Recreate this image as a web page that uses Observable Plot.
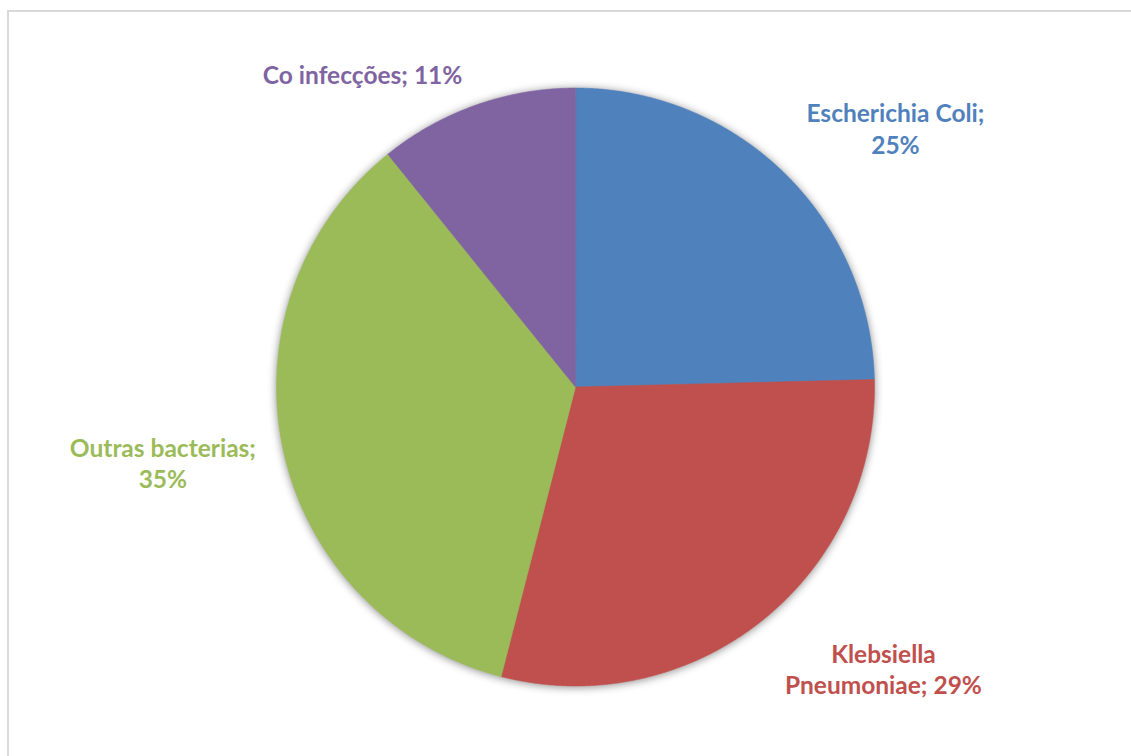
<!DOCTYPE html>
<html>
<head>
<meta charset="utf-8">
<script src="https://cdn.jsdelivr.net/npm/d3@7"></script>
<script src="https://cdn.jsdelivr.net/npm/@observablehq/plot@0.6"></script>
<style>
  html, body { margin: 0; padding: 0; background: #fff; overflow: hidden; }
  #wrap { position: relative; width: 1131px; height: 756px; overflow: hidden; }
  #frame { position: absolute; left: 7px; top: 10px; width: 1300px; height: 900px;
           border: 2px solid #d9d9d9; box-sizing: border-box; }
  #chart { position: absolute; left: 0; top: 0; }
  #chart g[aria-label="line"] { filter: drop-shadow(0px 1px 4px rgba(0,0,0,0.45)); }
</style>
</head>
<body>
<div id="wrap"><div id="frame"></div><div id="chart"></div></div>
<script>
// Data
const categories = ["Escherichia Coli", "Klebsiella Pneumoniae", "Outras bacterias", "Co infecções"];
const values = [24.6, 29.4, 35.2, 10.8];
const colors = ["#4F81BD", "#C0504D", "#9BBB59", "#8064A2"];

// Layout config (label wrapping and placement in unit-circle coordinates)
const labelText = (name, pct) => ({
  "Escherichia Coli": `Escherichia Coli;\n${pct}%`,
  "Klebsiella Pneumoniae": `Klebsiella\nPneumoniae; ${pct}%`,
  "Outras bacterias": `Outras bacterias;\n${pct}%`,
  "Co infecções": `Co infecções; ${pct}%`
})[name];
const labelPlacement = {
  "Escherichia Coli": [1.070, 0.866],
  "Klebsiella Pneumoniae": [1.030, -0.941],
  "Outras bacterias": [-1.380, -0.253],
  "Co infecções": [-0.712, 1.048]
};

const cx = 575, cy = 386.5, R = 299;
const total = d3.sum(values);
const arcs = d3.pie().sort(null).value(d => d)(values);

// Build polygon points for each wedge from d3.pie angles
const wedgePts = [];
arcs.forEach((a, i) => {
  const name = categories[i];
  wedgePts.push({name, x: 0, y: 0});
  const n = Math.max(8, Math.ceil((a.endAngle - a.startAngle) / 0.005));
  for (let k = 0; k <= n; k++) {
    const t = a.startAngle + (a.endAngle - a.startAngle) * k / n;
    wedgePts.push({name, x: Math.sin(t), y: Math.cos(t)});
  }
});

const labels = categories.map((name, i) => ({
  name,
  text: labelText(name, Math.round(values[i] / total * 100)),
  x: labelPlacement[name][0],
  y: labelPlacement[name][1]
}));

const plot = Plot.plot({
  width: 1131,
  height: 756,
  margin: 0,
  x: {domain: [-1, 1], range: [cx - R, cx + R], axis: null},
  y: {domain: [-1, 1], range: [cy + R, cy - R], axis: null},
  color: {domain: categories, range: colors},
  style: {background: "transparent", overflow: "visible"},
  marks: [
    Plot.line(wedgePts, {x: "x", y: "y", z: "name", fill: "name", stroke: "name", strokeWidth: 0.5, curve: "linear-closed"}),
    Plot.text(labels, {
      x: "x", y: "y", text: "text", fill: "name",
      fontFamily: "Lato, 'Open Sans', sans-serif", fontWeight: 700, fontSize: 24.5,
      lineHeight: 1.27, textAnchor: "middle", lineAnchor: "middle"
    })
  ]
});
document.getElementById("chart").appendChild(plot);
</script>
</body>
</html>
